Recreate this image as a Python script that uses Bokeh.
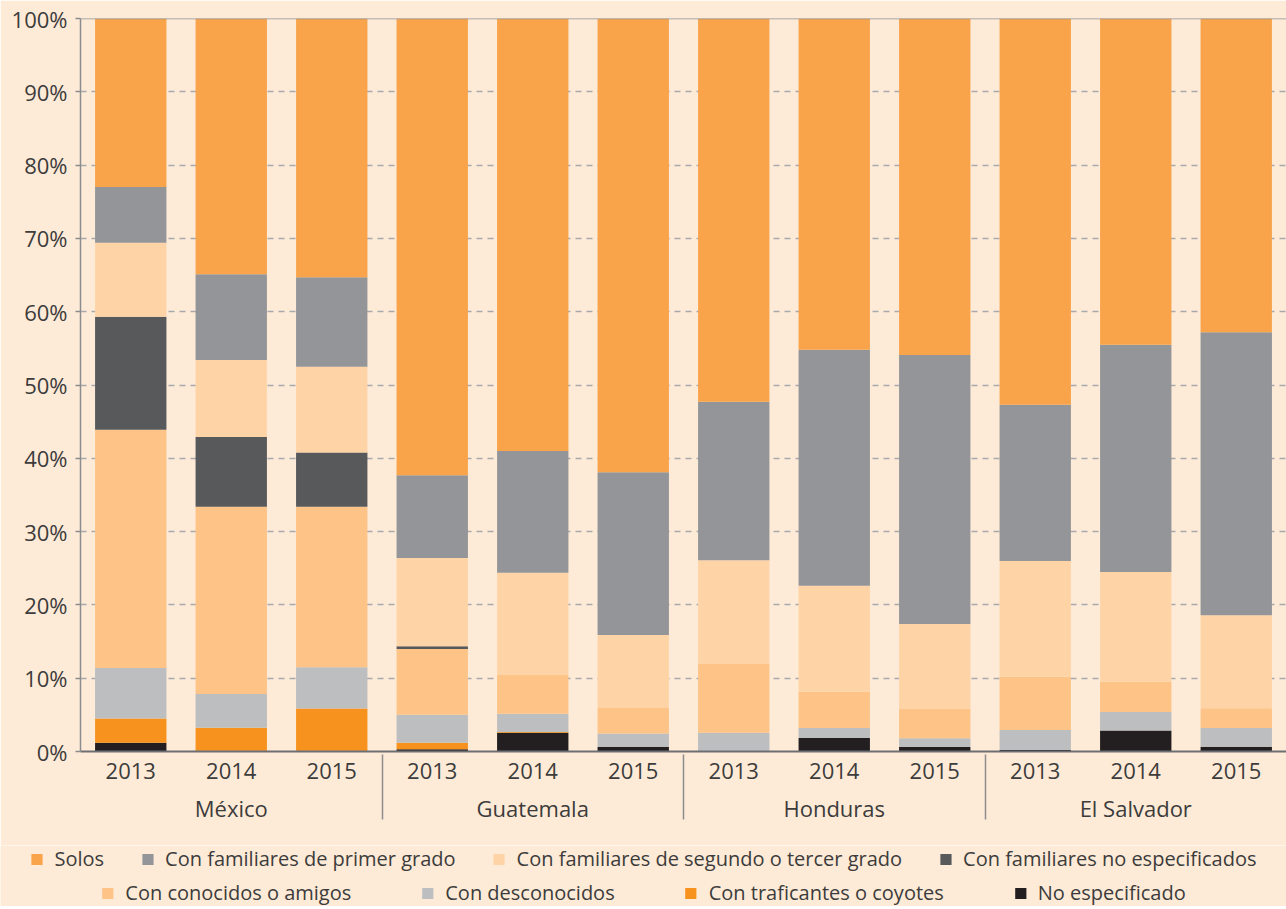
from bokeh.plotting import figure
from bokeh.layouts import column
from bokeh.models import (FactorRange, Range1d, FixedTicker, Legend,
                          LegendItem, Span, ColumnDataSource)
from bokeh.embed import file_html
from bokeh.resources import INLINE

countries = ["México", "Guatemala", "Honduras", "El Salvador"]
years = ["2013", "2014", "2015"]

no_especificado = [1.2, 0.1, 0.1, 0.3, 2.55, 0.65, 0.0, 1.85, 0.6, 0.2, 2.85, 0.65]
traficantes = [3.3, 3.15, 5.75, 0.9, 0.1, 0.0, 0.0, 0.0, 0.0, 0.0, 0.0, 0.0]
desconocidos = [6.9, 4.6, 5.65, 3.8, 2.5, 1.8, 2.55, 1.35, 1.2, 2.75, 2.55, 2.55]
conocidos = [32.5, 25.55, 21.9, 9.0, 5.35, 3.5, 9.45, 4.95, 4.05, 7.25, 4.1, 2.7]
fam_no_esp = [15.4, 9.5, 7.4, 0.35, 0.0, 0.0, 0.0, 0.0, 0.0, 0.0, 0.0, 0.0]
fam_segundo = [10.1, 10.5, 11.7, 12.05, 13.9, 9.95, 14.1, 14.45, 11.55, 15.8, 15.0, 12.7]
fam_primer = [7.6, 11.7, 12.2, 11.3, 16.6, 22.2, 21.6, 32.2, 36.7, 21.3, 31.0, 38.6]
solos = [23.0, 34.9, 35.3, 62.3, 59.0, 61.9, 52.3, 45.2, 45.9, 52.7, 44.5, 42.8]

series_keys = ["no_especificado", "traficantes", "desconocidos", "conocidos",
               "fam_no_esp", "fam_segundo", "fam_primer", "solos"]
series_labels = ["No especificado", "Con traficantes o coyotes", "Con desconocidos",
                 "Con conocidos o amigos", "Con familiares no especificados",
                 "Con familiares de segundo o tercer grado",
                 "Con familiares de primer grado", "Solos"]
colors = ["#231F20", "#F7921E", "#BCBEC0", "#FDC387", "#58595B", "#FED4A6",
          "#939598", "#F9A34A"]

y_ticks = [0, 10, 20, 30, 40, 50, 60, 70, 80, 90, 100]

BG = "#FEEBD7"
TXT = "#3C3C3C"
AX = "#8A8C8E"
FONT = "Open Sans"

factors = [(c, y) for c in countries for y in years]
source = ColumnDataSource(dict(
    x=factors,
    no_especificado=no_especificado, traficantes=traficantes,
    desconocidos=desconocidos, conocidos=conocidos, fam_no_esp=fam_no_esp,
    fam_segundo=fam_segundo, fam_primer=fam_primer, solos=solos))

p = figure(x_range=FactorRange(*factors, factor_padding=0, group_padding=0,
                               subgroup_padding=0, range_padding=0),
           y_range=Range1d(0, 100), width=1286, height=845,
           output_backend="svg", toolbar_location=None,
           min_border_left=80, min_border_right=0, min_border_top=18,
           min_border_bottom=94,
           background_fill_color=BG, border_fill_color=BG)
p.outline_line_color = None
p.frame_align = False

renderers = p.vbar_stack(series_keys, x="x", width=0.71, color=colors,
                         line_color=None, source=source)

# y axis
p.yaxis.ticker = FixedTicker(ticks=y_ticks)
p.yaxis.major_label_overrides = {t: f"{t}%" for t in y_ticks}
p.yaxis.axis_line_color = AX
p.yaxis.axis_line_width = 1.5
p.yaxis.major_tick_line_color = AX
p.yaxis.major_tick_line_width = 1.5
p.yaxis.major_tick_out = 5
p.yaxis.major_tick_in = 0
p.yaxis.minor_tick_line_color = None
p.yaxis.major_label_standoff = 8
p.yaxis.major_label_text_font_size = "22px"
p.yaxis.major_label_text_font = FONT
p.yaxis.major_label_text_color = TXT

p.ygrid.grid_line_color = "#A7A9AC"
p.ygrid.grid_line_dash = "6 5"
p.ygrid.grid_line_width = 1.5
p.xgrid.grid_line_color = None

p.add_layout(Span(location=100, dimension="width", line_color=AX, line_width=1.5))

# x axis (categorical)
xa = p.xaxis[0]
xa.axis_line_color = "#6D6E71"
xa.axis_line_width = 2
xa.major_tick_line_color = None
xa.major_tick_out = 0
xa.major_tick_in = 0
xa.major_label_standoff = 11
xa.major_label_text_font_size = "22px"
xa.major_label_text_font = FONT
xa.major_label_text_color = TXT
xa.group_text_font_size = "22px"
xa.group_text_font = FONT
xa.group_text_font_style = "normal"
xa.group_text_color = TXT
xa.separator_line_color = AX
xa.separator_line_width = 1.5

# legend panel
q = figure(width=1286, height=61, x_range=Range1d(0, 1), y_range=Range1d(0, 1),
           output_backend="svg", toolbar_location=None,
           min_border_left=0, min_border_right=0, min_border_top=0,
           min_border_bottom=0, background_fill_color=BG, border_fill_color=BG)
q.outline_line_color = None
q.axis.visible = False
q.grid.visible = False
q.frame_align = False

lab = dict(zip(series_keys, series_labels))
col = dict(zip(series_keys, colors))
# zero-size placeholder glyphs that only carry the legend swatch style
qr = {k: q.vbar(x=[0.5], top=[0], width=0, color=col[k], line_color=None)
      for k in series_keys}
row1 = ["solos", "fam_primer", "fam_segundo", "fam_no_esp"]
row2 = ["conocidos", "desconocidos", "traficantes", "no_especificado"]


def make_legend(keys, spacing, loc):
    return Legend(items=[LegendItem(label=lab[k], renderers=[qr[k]]) for k in keys],
                  orientation="horizontal", location=loc,
                  spacing=spacing, label_standoff=11, glyph_width=14, glyph_height=14,
                  label_text_font=FONT, label_text_font_size="20px",
                  label_text_color=TXT, background_fill_color=BG,
                  background_fill_alpha=0, border_line_color=None,
                  margin=0, padding=0, label_height=20)


q.add_layout(make_legend(row1, 36, "top_center"))
q.add_layout(make_legend(row2, 69, "bottom_center"))

open("out.html", "w").write(file_html(column(p, q, spacing=0), INLINE))
